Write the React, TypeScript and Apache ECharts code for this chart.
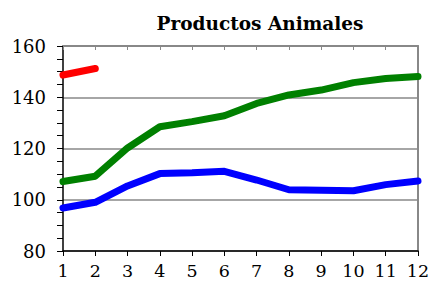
import React, { useEffect, useRef } from "react";
import * as echarts from "echarts";

const months = ["1", "2", "3", "4", "5", "6", "7", "8", "9", "10", "11", "12"];
const redSeries = [148.7, 151.2, null, null, null, null, null, null, null, null, null, null];
const greenSeries = [107.1, 109.2, 120.2, 128.5, 130.5, 132.8, 137.6, 140.9, 142.8, 145.7, 147.3, 148.1];
const blueSeries = [96.8, 99.0, 105.4, 110.2, 110.5, 111.1, 107.7, 103.9, 103.7, 103.5, 105.9, 107.3];
const yTicks = { min: 80, max: 160, interval: 20 };
const title = "Productos Animales";

const FONT = "DejaVu Serif";

export default function App() {
  const ref = useRef<HTMLDivElement>(null);
  useEffect(() => {
    const chart = echarts.init(ref.current!, null, { renderer: "svg" });
    const line = (data: (number | null)[], color: string) => ({
      type: "line",
      data,
      symbol: "none",
      connectNulls: false,
      lineStyle: { color, width: 7, cap: "round", join: "round" },
      itemStyle: { color },
    });
    chart.setOption({
      animation: false,
      title: {
        text: title,
        left: 255,
        textAlign: "center",
        top: 9,
        textStyle: { fontFamily: FONT, fontWeight: "bold", fontSize: 18.5, color: "#000" },
      },
      grid: { left: 63, right: 15, top: 46, bottom: 33, containLabel: false },
      xAxis: [
        {
          type: "category",
          data: months,
          boundaryGap: false,
          axisLine: { lineStyle: { color: "#000", width: 1.5 } },
          axisTick: { show: true, length: 5, lineStyle: { color: "#000" } },
          axisLabel: { fontFamily: FONT, fontSize: 17.5, color: "#000", margin: 11 },
          splitLine: { show: false },
        },
        {
          type: "category",
          data: months,
          boundaryGap: false,
          position: "top",
          axisLine: { lineStyle: { color: "#888", width: 2 } },
          axisTick: { show: true, inside: true, length: 4, lineStyle: { color: "#888" } },
          axisLabel: { show: false },
          splitLine: { show: false },
        },
      ],
      yAxis: [
        {
          type: "value",
          min: yTicks.min,
          max: yTicks.max,
          interval: yTicks.interval,
          axisLine: { show: true, lineStyle: { color: "#000", width: 1.5 } },
          axisTick: { show: true, length: 6, lineStyle: { color: "#000" } },
          minorTick: { show: true, splitNumber: 4, length: 6, lineStyle: { color: "#000" } },
          axisLabel: { fontFamily: FONT, fontSize: 18, color: "#000", margin: 17 },
          splitLine: { show: true, lineStyle: { color: "#888", width: 1.5 } },
        },
        {
          type: "value",
          min: yTicks.min,
          max: yTicks.max,
          interval: yTicks.interval,
          position: "right",
          axisLine: { show: true, lineStyle: { color: "#888", width: 2 } },
          axisTick: { show: false },
          axisLabel: { show: false },
          splitLine: { show: false },
        },
      ],
      series: [line(redSeries, "#ff0000"), line(greenSeries, "#008000"), line(blueSeries, "#0000ff")],
    });
    return () => chart.dispose();
  }, []);
  return (
    <div
      ref={ref}
      style={{ position: "fixed", left: 0, top: 0, width: 433, height: 284, background: "#fff" }}
    />
  );
}
